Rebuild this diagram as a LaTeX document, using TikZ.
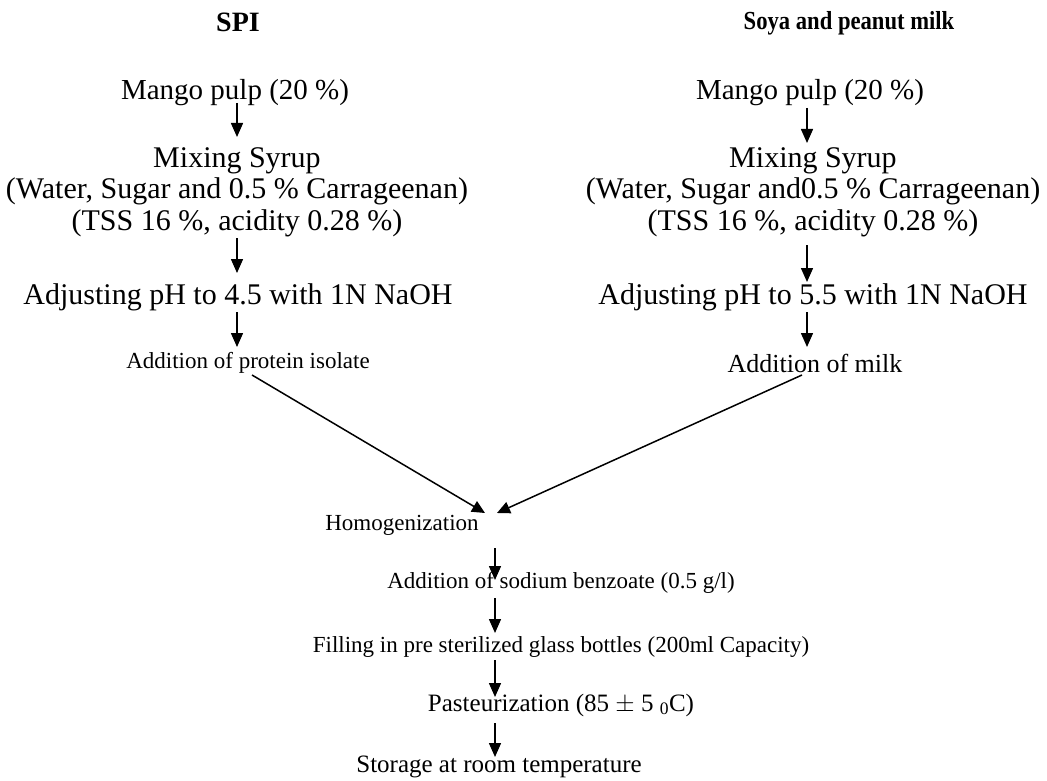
\documentclass[tikz,border=0pt]{standalone}
\usepackage{fontspec}
\setmainfont{Liberation Serif}
\usetikzlibrary{arrows.meta,calc}
\begin{document}
\begin{tikzpicture}[x=1pt,y=-1pt,
  txt/.style={inner sep=0pt,align=center,font=\fontsize{30}{31.5}\selectfont},
  mg/.style={inner sep=0pt,align=center,font=\fontsize{29}{31.5}\selectfont},
  sm/.style={inner sep=0pt,align=center,font=\fontsize{23}{26}\selectfont},
  md/.style={inner sep=0pt,align=center,font=\fontsize{25}{28}\selectfont},
  ttl/.style={inner sep=0pt,font=\fontsize{26}{28}\selectfont\bfseries},
  arr/.style={line width=1.5pt,-{Triangle[length=14pt,width=12pt]}},
  darr/.style={line width=1.5pt,-{Triangle[length=13pt,width=12pt]}}]
\useasboundingbox (0,0) rectangle (1047,781);
\node[ttl,font=\fontsize{28}{28}\selectfont\bfseries] (spi) at (238,22) {SPI};
\node[ttl] (soya) at (849,23) {\scalebox{0.87}[1]{Soya and peanut milk}};
\node[mg] (lmango) at (235,93) {Mango pulp (20 \%)};
\node[mg] (rmango) at (810,93) {Mango pulp (20 \%)};
\node[txt] (lmix) at (237,192) {Mixing Syrup\\(Water, Sugar and 0.5 \% Carrageenan)\\(TSS 16 \%, acidity 0.28 \%)};
\node[txt] (rmix) at (813,192) {Mixing Syrup\\(Water, Sugar and0.5 \% Carrageenan)\\(TSS 16 \%, acidity 0.28 \%)};
\node[txt] (lph) at (238,297) {Adjusting pH to 4.5 with 1N NaOH};
\node[txt] (rph) at (813,297) {Adjusting pH to 5.5 with 1N NaOH};
\node[sm] (lprot) at (248,363) {Addition of protein isolate};
\node[md,font=\fontsize{26}{28}\selectfont] (rmilk) at (815,363) {Addition of milk};
\node[sm] (homog) at (402,525) {Homogenization};
\node[sm] (sodium) at (561,583) {Addition of sodium benzoate (0.5 g/l)};
\node[sm] (filling) at (561,647) {Filling in pre sterilized glass bottles (200ml Capacity)};
\node[md] (past) at (561,705) {Pasteurization (85 $\pm$ 5 \textsubscript{0}C)};
\node[md] (storage) at (499,767) {Storage at room temperature};
\coordinate (lx) at (237,0);
\coordinate (rx) at (807,0);
\coordinate (cx) at (495,0);
% left column
\draw[arr] ($(lmango.center -| lx)+(0,10)$) -- ($(lmix.center -| lx)+(0,-55)$);
\draw[arr] ($(lmix.center -| lx)+(0,46)$) -- ($(lph.center -| lx)+(0,-24)$);
\draw[arr] ($(lph.center -| lx)+(0,15)$) -- ($(lprot.center -| lx)+(0,-16)$);
% right column
\draw[arr] ($(rmango.center -| rx)+(0,15)$) -- ($(rmix.center -| rx)+(0,-49)$);
\draw[arr] ($(rmix.center -| rx)+(0,53)$) -- ($(rph.center -| rx)+(0,-15)$);
\draw[arr] ($(rph.center -| rx)+(0,15)$) -- ($(rmilk.center -| rx)+(0,-16)$);
% merge
\draw[darr] ($(lprot.center)+(4,12)$) -- ($(homog.center)+(83,-12)$);
\draw[darr] ($(rmilk.center)+(-13,12)$) -- ($(homog.center)+(95,-12)$);
% bottom column
\draw[arr] ($(homog.center -| cx)+(0,23)$) -- ($(sodium.center -| cx)+(0,-3)$);
\draw[arr] ($(sodium.center -| cx)+(0,15)$) -- ($(filling.center -| cx)+(0,-14)$);
\draw[arr] ($(filling.center -| cx)+(0,13)$) -- ($(past.center -| cx)+(0,-8)$);
\draw[arr] ($(past.center -| cx)+(0,18)$) -- ($(storage.center -| cx)+(0,-10)$);
\end{tikzpicture}
\end{document}
